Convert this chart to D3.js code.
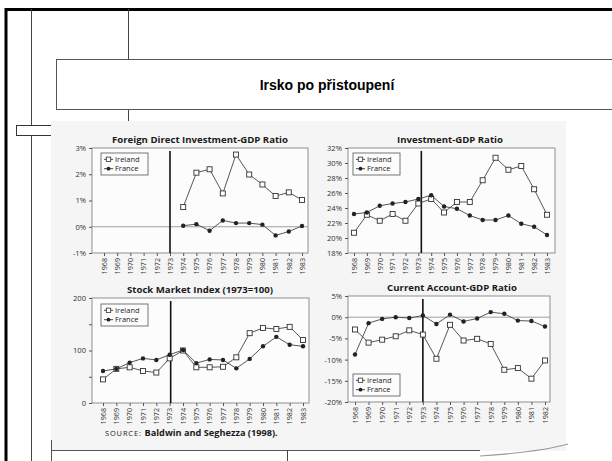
<!DOCTYPE html>
<html>
<head>
<meta charset="utf-8">
<script src="https://cdn.jsdelivr.net/npm/d3@7"></script>
<style>
  body { margin: 0; background: #fff; }
  svg { display: block; }
</style>
</head>
<body>
<div id="chart"></div>
<script>
const years = d3.range(1968, 1984);
const yearsCA = d3.range(1968, 1983);
const fdiYears = d3.range(1974, 1984);

// Foreign Direct Investment-GDP Ratio (%)
const fdiIreland = [0.75, 2.06, 2.19, 1.27, 2.75, 1.99, 1.61, 1.17, 1.31, 1.02];
const fdiFrance = [0.04, 0.1, -0.15, 0.24, 0.14, 0.14, 0.08, -0.33, -0.18, 0.03];

// Investment-GDP Ratio (%)
const invIreland = [20.7, 23.1, 22.3, 23.2, 22.3, 24.6, 25.2, 23.4, 24.8, 24.8, 27.7, 30.7, 29.1, 29.6, 26.5, 23.1];
const invFrance = [23.2, 23.4, 24.3, 24.6, 24.8, 25.2, 25.7, 24.2, 23.9, 23.0, 22.4, 22.4, 23.0, 21.9, 21.5, 20.4];

// Stock Market Index (1973=100)
const smiIreland = [45, 65, 68, 61, 58, 85, 100, 68, 68, 69, 87, 133, 143, 141, 145, 120];
const smiFrance = [61, 65, 77, 85, 82, 92, 101, 76, 83, 82, 66, 84, 108, 126, 111, 108];

// Current Account-GDP Ratio (%)
const caIreland = [-2.9, -6.0, -5.3, -4.5, -3.1, -4.1, -9.8, -1.8, -5.5, -5.1, -6.3, -12.4, -12.0, -14.5, -10.2];
const caFrance = [-8.8, -1.4, -0.4, 0, -0.2, 0.4, -1.6, 0.6, -1.0, -0.3, 1.2, 0.8, -0.8, -0.9, -2.2];

const fdiTicks = [-1, 0, 1, 2, 3];
const invTicks = [18, 20, 22, 24, 26, 28, 30, 32];
const smiTicks = [0, 50, 100, 150, 200];
const smiLabels = [0, 100, 200];
const caTicks = [-20, -15, -10, -5, 0, 5];

const W = 612, H = 461;

const svg = d3.select("#chart").append("svg")
  .attr("width", W)
  .attr("height", H);

// slide furniture
svg.append("rect").attr("x", 0).attr("y", 0).attr("width", W).attr("height", H).attr("fill", "#fff");
svg.append("line").attr("x1", 5).attr("x2", W).attr("y1", 9.5).attr("y2", 9.5).attr("stroke", "#000").attr("stroke-width", 3);
svg.append("line").attr("x1", 6).attr("x2", 6).attr("y1", 8).attr("y2", H).attr("stroke", "#000").attr("stroke-width", 3);
svg.append("line").attr("x1", 31.5).attr("x2", 31.5).attr("y1", 9).attr("y2", H).attr("stroke", "#444").attr("stroke-width", 1);
svg.append("line").attr("x1", 128.5).attr("x2", 128.5).attr("y1", 9).attr("y2", 122).attr("stroke", "#444").attr("stroke-width", 1);
svg.append("rect").attr("x", 16.5).attr("y", 125.5).attr("width", 50).attr("height", 10)
  .attr("fill", "#fff").attr("stroke", "#333");
svg.append("rect").attr("x", 56.5).attr("y", 59.5).attr("width", 600).attr("height", 50)
  .attr("fill", "#fff").attr("stroke", "#555");
svg.append("text")
  .attr("x", 327).attr("y", 90)
  .attr("text-anchor", "middle")
  .style("font-family", "Liberation Sans, Arial, sans-serif")
  .style("font-weight", "bold")
  .style("font-size", "14px")
  .text("Irsko po přistoupení");

// scanned page
svg.append("rect").attr("x", 51).attr("y", 121).attr("width", 515).attr("height", 330).attr("fill", "#f5f5f5");
svg.append("line").attr("x1", 51).attr("x2", 480).attr("y1", 450.5).attr("y2", 450.5).attr("stroke", "#555");
svg.append("line").attr("x1", 51.5).attr("x2", 51.5).attr("y1", 440).attr("y2", H).attr("stroke", "#555");
svg.append("line").attr("x1", 287.5).attr("x2", 287.5).attr("y1", 450).attr("y2", H).attr("stroke", "#444");
svg.append("path").attr("d", "M480,456 Q540,452 568,444").attr("fill", "none").attr("stroke", "#999").attr("stroke-width", 1.2);

const drawPanel = p => {
  const g = svg.append("g");
  const xScale = d3.scalePoint().domain(p.xYears).range(p.xRange);
  const yScale = d3.scaleLinear().domain(p.yDomain).range([p.frame[3], p.frame[2]]);

  g.append("rect")
    .attr("x", p.frame[0]).attr("y", p.frame[2])
    .attr("width", p.frame[1] - p.frame[0]).attr("height", p.frame[3] - p.frame[2])
    .attr("fill", "#fcfcfc").attr("stroke", "#777").attr("stroke-width", 0.8);

  g.append("text")
    .attr("x", p.titleX).attr("y", p.frame[2] - 5)
    .attr("text-anchor", "middle")
    .style("font-family", "Open Sans, sans-serif")
    .style("font-weight", "bold")
    .style("font-size", "9.6px")
    .attr("fill", "#1a1a1a")
    .text(p.title);

  const yAxis = d3.axisLeft(yScale)
    .tickValues(p.yTicks)
    .tickSize(3)
    .tickFormat(d => p.yLabels.includes(d) ? p.fmt(d) : "");
  g.append("g")
    .attr("transform", `translate(${p.frame[0]},0)`)
    .call(yAxis)
    .call(a => a.select(".domain").remove())
    .call(a => a.selectAll("line").attr("stroke", "#555"))
    .call(a => a.selectAll("text").attr("fill", "#333")
      .style("font-family", "Open Sans, sans-serif").style("font-size", "7.6px"));

  const xAxis = d3.axisBottom(xScale).tickSize(3).tickPadding(2);
  g.append("g")
    .attr("transform", `translate(0,${p.frame[3]})`)
    .call(xAxis)
    .call(a => a.select(".domain").remove())
    .call(a => a.selectAll("line").attr("stroke", "#555"))
    .call(a => a.selectAll("text")
      .attr("fill", "#333")
      .attr("transform", "rotate(-90)")
      .attr("text-anchor", "end")
      .attr("x", -5).attr("y", 0).attr("dy", "0.32em")
      .style("font-family", "Open Sans, sans-serif").style("font-size", "7.2px"));

  if (p.zeroLine) {
    g.append("line")
      .attr("x1", p.frame[0]).attr("x2", p.frame[1])
      .attr("y1", yScale(0)).attr("y2", yScale(0))
      .attr("stroke", "#888").attr("stroke-width", 0.8);
  }

  const bx = xScale(1973) + p.breakDx;
  g.append("line")
    .attr("x1", bx).attr("x2", bx)
    .attr("y1", p.frame[2] + 3).attr("y2", p.frame[3])
    .attr("stroke", "#111").attr("stroke-width", 1.6);

  const line = d3.line()
    .x(d => xScale(d[0]))
    .y(d => yScale(d[1]));

  p.series.forEach(s => {
    const data = s.years.map((y, i) => [y, s.values[i]]);
    g.append("path")
      .datum(data)
      .attr("fill", "none")
      .attr("stroke", "#444")
      .attr("stroke-width", 0.9)
      .attr("d", line);
    if (s.marker === "square") {
      g.selectAll(null).data(data).enter().append("rect")
        .attr("x", d => xScale(d[0]) - 2.5).attr("y", d => yScale(d[1]) - 2.5)
        .attr("width", 5).attr("height", 5)
        .attr("fill", "#fff").attr("stroke", "#333").attr("stroke-width", 0.9);
    } else {
      g.selectAll(null).data(data).enter().append("circle")
        .attr("cx", d => xScale(d[0])).attr("cy", d => yScale(d[1]))
        .attr("r", 2.2)
        .attr("fill", "#222");
    }
  });

  // legend
  const lg = g.append("g").attr("transform", `translate(${p.legend[0]},${p.legend[1]})`);
  lg.append("rect").attr("x", 0).attr("y", 0).attr("width", 47).attr("height", 22)
    .attr("fill", "#fcfcfc").attr("stroke", "#555").attr("stroke-width", 0.8);
  p.series.forEach((s, i) => {
    const cy = 6.3 + i * 9.4;
    lg.append("line").attr("x1", 3).attr("x2", 12).attr("y1", cy).attr("y2", cy).attr("stroke", "#333").attr("stroke-width", 0.9);
    if (s.marker === "square") {
      lg.append("rect").attr("x", 5.3).attr("y", cy - 2.2).attr("width", 4.4).attr("height", 4.4)
        .attr("fill", "#fff").attr("stroke", "#333").attr("stroke-width", 0.8);
    } else {
      lg.append("circle").attr("cx", 7.5).attr("cy", cy).attr("r", 1.9).attr("fill", "#222");
    }
    lg.append("text").attr("x", 14).attr("y", cy).attr("dy", "0.35em")
      .style("font-family", "Open Sans, sans-serif").style("font-size", "7.5px")
      .attr("fill", "#222")
      .text(s.name);
  });
};

const pct = d => d + "%";

drawPanel({
  title: "Foreign Direct Investment-GDP Ratio", titleX: 200,
  frame: [92, 308, 148, 253], xYears: years, xRange: [104, 302],
  yDomain: [-1, 3], yTicks: fdiTicks, yLabels: fdiTicks, fmt: pct,
  zeroLine: true, breakDx: 0, legend: [101, 153],
  series: [
    { name: "Ireland", marker: "square", years: fdiYears, values: fdiIreland },
    { name: "France", marker: "circle", years: fdiYears, values: fdiFrance }
  ]
});

drawPanel({
  title: "Investment-GDP Ratio", titleX: 450,
  frame: [348, 555, 148, 253], xYears: years, xRange: [354, 547],
  yDomain: [18, 32], yTicks: invTicks, yLabels: invTicks, fmt: pct,
  zeroLine: false, breakDx: 3, legend: [353, 153],
  series: [
    { name: "Ireland", marker: "square", years: years, values: invIreland },
    { name: "France", marker: "circle", years: years, values: invFrance }
  ]
});

drawPanel({
  title: "Stock Market Index (1973=100)", titleX: 200,
  frame: [92, 309, 298, 403], xYears: years, xRange: [103, 303],
  yDomain: [0, 200], yTicks: smiTicks, yLabels: smiLabels, fmt: d => d,
  zeroLine: false, breakDx: 1, legend: [101, 304],
  series: [
    { name: "Ireland", marker: "square", years: years, values: smiIreland },
    { name: "France", marker: "circle", years: years, values: smiFrance }
  ]
});

drawPanel({
  title: "Current Account-GDP Ratio", titleX: 452,
  frame: [348, 550, 296, 402], xYears: yearsCA, xRange: [355, 545],
  yDomain: [-20, 5], yTicks: caTicks, yLabels: caTicks, fmt: pct,
  zeroLine: true, breakDx: 0, legend: [353, 374],
  series: [
    { name: "Ireland", marker: "square", years: yearsCA, values: caIreland },
    { name: "France", marker: "circle", years: yearsCA, values: caFrance }
  ]
});

// source line
const src = svg.append("text")
  .attr("x", 105).attr("y", 436)
  .style("font-family", "Open Sans, sans-serif")
  .attr("fill", "#1a1a1a");
src.append("tspan").style("font-size", "7.4px").style("letter-spacing", "0.9px").text("SOURCE: ");
src.append("tspan").style("font-size", "9.2px").style("font-weight", "bold").text("Baldwin and Seghezza (1998).");
</script>
</body>
</html>
